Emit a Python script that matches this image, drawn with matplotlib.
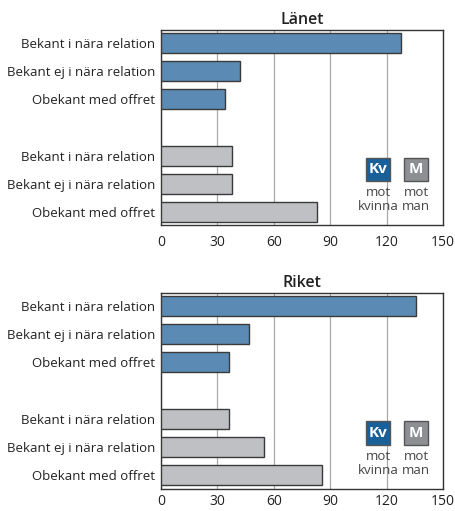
import matplotlib
matplotlib.use("Agg")
import matplotlib.pyplot as plt
from matplotlib.patches import Rectangle

categories = ["Bekant i nära relation", "Bekant ej i nära relation", "Obekant med offret"]
lanet_kvinna = [127.5, 42, 34]
lanet_man = [38, 38, 83]
riket_kvinna = [135.5, 47, 36]
riket_man = [36, 55, 85.5]
xticks = [0, 30, 60, 90, 120, 150]

BLUE = "#5b8ab5"
GRAY = "#bfc0c3"
EDGE = "#3a3a3a"
KV_BOX = "#1a5f97"
M_BOX = "#8e8f93"

plt.rcParams['font.family'] = ['Open Sans', 'DejaVu Sans']

fig = plt.figure(figsize=(4.56, 5.11), dpi=100)

def panel(rect, title, kv, m, xpad):
    ax = fig.add_axes(rect)
    ypos_kv = [0, 1, 2]
    ypos_m = [4, 5, 6]
    ax.barh(ypos_kv, kv, height=0.71, color=BLUE, edgecolor=EDGE, linewidth=1.0, zorder=3)
    ax.barh(ypos_m, m, height=0.71, color=GRAY, edgecolor=EDGE, linewidth=1.0, zorder=3)
    ax.set_xlim(0, 150)
    ax.set_ylim(6.47, -0.47)
    ax.set_xticks(xticks)
    ax.set_yticks(ypos_kv + ypos_m)
    ax.set_yticklabels(categories + categories)
    ax.tick_params(axis='y', length=0, pad=4, labelsize=9.5, labelcolor="#222222")
    ax.tick_params(axis='x', length=0, pad=xpad, labelsize=10, labelcolor="#222222")
    ax.grid(axis='x', color="#aaaaaa", linewidth=0.9, zorder=0)
    for s in ax.spines.values():
        s.set_color("#333333")
        s.set_linewidth(1.0)
    ax.set_title(title, fontsize=11.5, fontweight='semibold', pad=4, color="#222222")
    # legend boxes
    for xc, col, lab, t1, t2 in [(0.77, KV_BOX, "Kv", "mot", "kvinna"),
                                  (0.905, M_BOX, "M", "mot", "man")]:
        w = 0.085
        h = 0.12
        yc = 0.285
        ax.add_patch(Rectangle((xc - w/2, yc - h/2), w, h, transform=ax.transAxes,
                               facecolor=col, edgecolor="#555555", linewidth=1.0, zorder=5))
        ax.text(xc, yc, lab, transform=ax.transAxes, ha='center', va='center',
                color='white', fontsize=11, fontweight='bold', zorder=6)
        ax.text(xc, yc - 0.12, t1, transform=ax.transAxes, ha='center', va='center',
                color="#444444", fontsize=9.5, zorder=6)
        ax.text(xc, yc - 0.19, t2, transform=ax.transAxes, ha='center', va='center',
                color="#444444", fontsize=9.5, zorder=6)
    return ax

panel([0.353, 0.5597, 0.6184, 0.3816], "Länet", lanet_kvinna, lanet_man, 7)
panel([0.353, 0.0436, 0.6184, 0.3836], "Riket", riket_kvinna, riket_man, 4)

fig.savefig("out.png", dpi=100)
